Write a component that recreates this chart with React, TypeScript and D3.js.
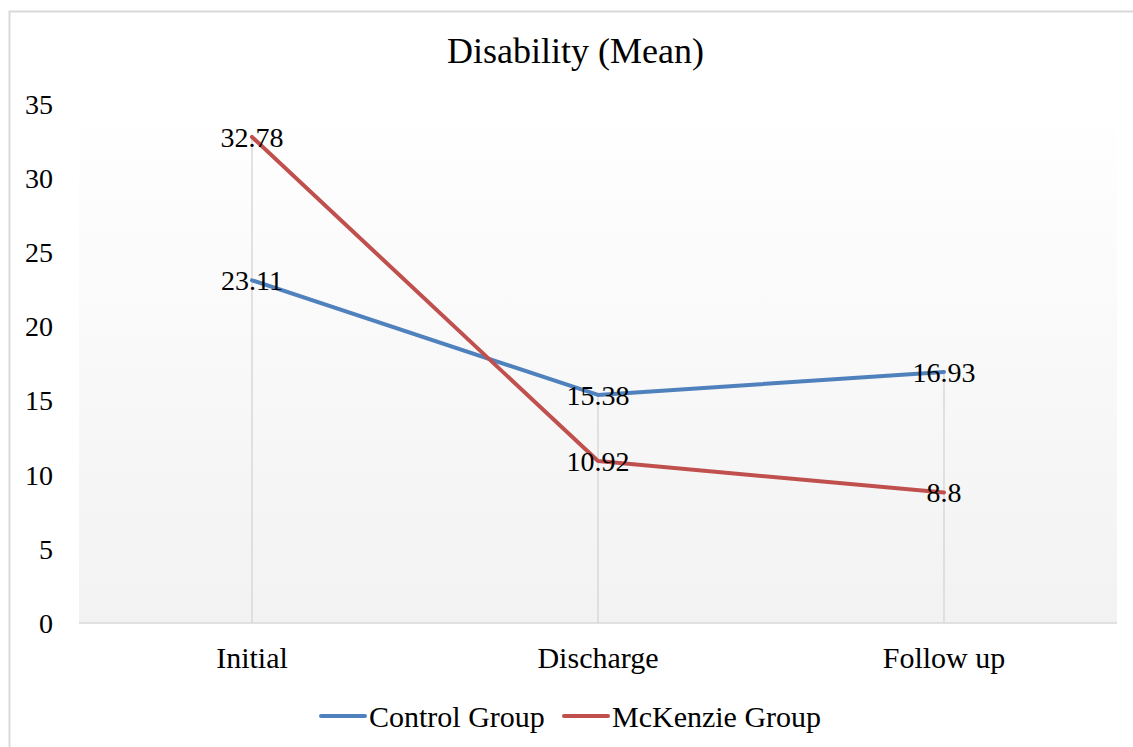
import { useMemo } from "react"
import * as d3 from "d3"

const categories = ["Initial", "Discharge", "Follow up"]
const controlValues = [23.11, 15.38, 16.93]
const mckenzieValues = [32.78, 10.92, 8.8]
const yTicks = [0, 5, 10, 15, 20, 25, 30, 35]
const seriesNames = ["Control Group", "McKenzie Group"]
const seriesColors = ["#4f81bd", "#c0504d"]

const W = 1133
const H = 747
const plot = { left: 79, right: 1117, top: 104, bottom: 623 }
const FONT = "'Liberation Serif', 'Times New Roman', serif"

const App = () => {
  const x = useMemo(
    () =>
      d3
        .scalePoint<string>()
        .domain(categories)
        .range([plot.left, plot.right])
        .padding(0.5),
    []
  )
  const y = useMemo(
    () => d3.scaleLinear().domain([0, 35]).range([plot.bottom, plot.top]),
    []
  )

  const line = d3
    .line<number>()
    .x((_, i) => x(categories[i]) as number)
    .y((d) => y(d))

  const series = [controlValues, mckenzieValues]

  return (
    <svg
      width={W}
      height={H}
      style={{ position: "absolute", left: 0, top: 0, background: "#fff" }}
      fontFamily={FONT}
    >
      <defs>
        <linearGradient id="bg" x1="0" y1="0" x2="0" y2="1">
          <stop offset="0" stopColor="#ffffff" />
          <stop offset="1" stopColor="#f2f2f2" />
        </linearGradient>
      </defs>
      <rect x={9.5} y={11.5} width={W + 20} height={H + 20} fill="none" stroke="#d9d9d9" strokeWidth={2} />

      <text x={575.5} y={63} textAnchor="middle" fontSize={36} fill="#000">
        Disability (Mean)
      </text>

      <rect
        x={plot.left}
        y={plot.top}
        width={plot.right - plot.left}
        height={plot.bottom - plot.top}
        fill="url(#bg)"
      />

      {/* drop lines from highest value down to the axis */}
      {categories.map((c, i) => (
        <line
          key={c}
          x1={x(c)}
          x2={x(c)}
          y1={y(Math.max(controlValues[i], mckenzieValues[i]))}
          y2={plot.bottom}
          stroke="#d9d9d9"
          strokeWidth={1.5}
        />
      ))}
      <line x1={plot.left} x2={plot.right} y1={plot.bottom} y2={plot.bottom} stroke="#d9d9d9" strokeWidth={1.5} />

      {yTicks.map((t) => (
        <text key={t} x={53} y={y(t)} dy="0.35em" textAnchor="end" fontSize={28} fill="#000">
          {t}
        </text>
      ))}

      {categories.map((c) => (
        <text key={c} x={x(c)} y={668} textAnchor="middle" fontSize={30} fill="#000">
          {c}
        </text>
      ))}

      {series.map((vals, si) => (
        <path
          key={si}
          d={line(vals) || ""}
          fill="none"
          stroke={seriesColors[si]}
          strokeWidth={4}
          strokeLinejoin="round"
          strokeLinecap="round"
        />
      ))}

      {series.map((vals, si) =>
        vals.map((v, i) => (
          <text
            key={`${si}-${i}`}
            x={x(categories[i])}
            y={y(v)}
            dy="0.35em"
            textAnchor="middle"
            fontSize={28}
            fill="#000"
          >
            {v}
          </text>
        ))
      )}

      {seriesNames.map((n, i) => {
        const lx = i === 0 ? 321 : 564
        return (
          <g key={n}>
            <line x1={lx} x2={lx + 44} y1={716} y2={716} stroke={seriesColors[i]} strokeWidth={4} strokeLinecap="round" />
            <text x={lx + 48} y={716} dy="0.35em" fontSize={30} fill="#000">
              {n}
            </text>
          </g>
        )
      })}
    </svg>
  )
}

export default App
